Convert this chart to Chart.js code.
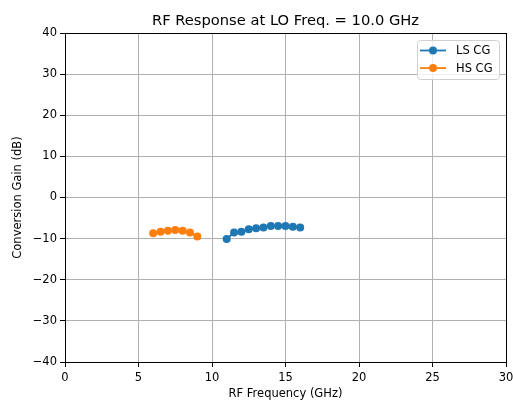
<!DOCTYPE html>
<html><head><meta charset="utf-8">
<script src="https://cdn.jsdelivr.net/npm/chart.js@4/dist/chart.umd.min.js"></script>
<style>html,body{margin:0;padding:0;background:#fff}#wrap{width:513px;height:401px}</style>
</head><body><div id="wrap"><canvas id="c" width="513" height="401"></canvas></div>
<script>
const chartTitle = 'RF Response at LO Freq. = 10.0 GHz';
const xLabel = 'RF Frequency (GHz)';
const yLabel = 'Conversion Gain (dB)';
const lsFreq = [11, 11.5, 12, 12.5, 13, 13.5, 14, 14.5, 15, 15.5, 16];
const lsGain = [-10.1, -8.5, -8.3, -7.7, -7.5, -7.3, -6.9, -6.9, -6.9, -7.1, -7.3];
const hsFreq = [6, 6.5, 7, 7.5, 8, 8.5, 9];
const hsGain = [-8.7, -8.3, -8.1, -7.9, -8.1, -8.5, -9.5];
const seriesNames = ['LS CG', 'HS CG'];
const seriesColors = ['#1f77b4', '#ff7f0e'];

const FONT = 'DejaVu Sans';
const fmt = v => (v < 0 ? '\u2212' + Math.abs(v) : String(v));
const frame = {
  id: 'frame',
  afterDraw(chart) {
    const {ctx, chartArea: a} = chart;
    ctx.save();
    ctx.strokeStyle = '#000'; ctx.lineWidth = 1;
    ctx.strokeRect(Math.round(a.left) + 0.5, Math.round(a.top) + 0.5, Math.round(a.right - a.left), Math.round(a.bottom - a.top));
    ctx.fillStyle = '#000';
    ctx.font = '14.7px "' + FONT + '"';
    ctx.textAlign = 'center'; ctx.textBaseline = 'alphabetic';
    ctx.fillText(chartTitle, (a.left + a.right) / 2, 25);
    // legend
    const bx = 417, by = 40, bw = 82, bh = 39;
    ctx.fillStyle = 'rgba(255,255,255,0.8)';
    ctx.strokeStyle = '#d0d0d0';
    ctx.beginPath();
    ctx.roundRect(bx + 0.5, by + 0.5, bw, bh, 3);
    ctx.fill(); ctx.stroke();
    ctx.font = '11.5px "' + FONT + '"';
    ctx.textAlign = 'left'; ctx.textBaseline = 'middle';
    seriesNames.forEach((n, i) => {
      const y = by + 10.5 + i * 17.6;
      ctx.strokeStyle = seriesColors[i]; ctx.lineWidth = 1.8;
      ctx.beginPath(); ctx.moveTo(bx + 3, y); ctx.lineTo(bx + 29, y); ctx.stroke();
      ctx.fillStyle = seriesColors[i];
      ctx.beginPath(); ctx.arc(bx + 16, y, 4, 0, Math.PI * 2); ctx.fill();
      ctx.fillStyle = '#000';
      ctx.fillText(n, bx + 39, y + 1);
    });
    ctx.restore();
  }
};

const mk = (xs, ys) => xs.map((x, i) => ({x, y: ys[i]}));
new Chart(document.getElementById('c'), {
  type: 'line',
  data: {
    datasets: [
      {label: seriesNames[0], data: mk(lsFreq, lsGain), borderColor: seriesColors[0], backgroundColor: seriesColors[0], borderWidth: 1.8, pointRadius: 4, pointBorderWidth: 0, tension: 0},
      {label: seriesNames[1], data: mk(hsFreq, hsGain), borderColor: seriesColors[1], backgroundColor: seriesColors[1], borderWidth: 1.8, pointRadius: 4, pointBorderWidth: 0, tension: 0}
    ]
  },
  options: {
    responsive: false, animation: false, devicePixelRatio: 1,
    layout: {padding: {left: 0, right: 7, top: 33, bottom: 0}},
    plugins: {legend: {display: false}, title: {display: false}, tooltip: {enabled: false}},
    scales: {
      x: {
        type: 'linear', min: 0, max: 30,
        ticks: {stepSize: 5, color: '#000', font: {family: FONT, size: 11.5}, padding: 4, maxRotation: 0, callback: fmt},
        grid: {color: '#b0b0b0', tickColor: '#000', tickLength: 5, lineWidth: 1},
        border: {display: false},
        title: {display: true, text: xLabel, color: '#000', font: {family: FONT, size: 11.5}, padding: {top: 0, bottom: 0}},
        afterFit(s) { s.height = 39; s.paddingLeft = 0; s.paddingRight = 0; }
      },
      y: {
        type: 'linear', min: -40, max: 40,
        ticks: {stepSize: 10, color: '#000', font: {family: FONT, size: 11.5}, padding: 3, callback: fmt},
        grid: {color: '#b0b0b0', tickColor: '#000', tickLength: 5, lineWidth: 1},
        border: {display: false},
        title: {display: true, text: yLabel, color: '#000', font: {family: FONT, size: 11.5}, padding: {top: 11, bottom: 4}},
        afterFit(s) { s.width = 65; s.paddingTop = 0; s.paddingBottom = 0; }
      }
    }
  },
  plugins: [frame]
});
</script></body></html>
